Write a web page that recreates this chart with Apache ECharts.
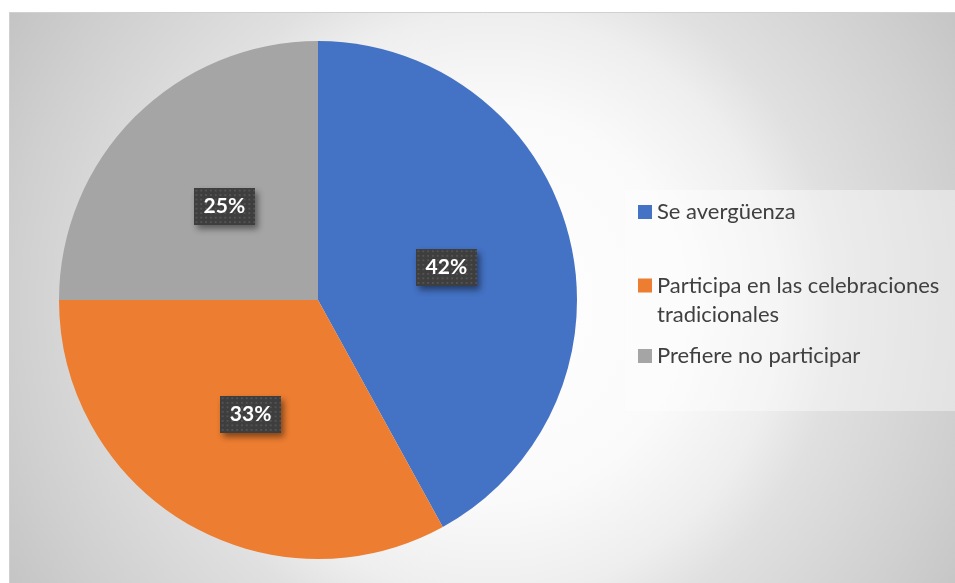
<!DOCTYPE html>
<html>
<head>
<meta charset="utf-8">
<script src="https://cdn.jsdelivr.net/npm/echarts@6/dist/echarts.min.js"></script>
<style>
  html, body { margin: 0; padding: 0; background: #fff; }
  #chart { width: 955px; height: 583px; }
</style>
</head>
<body>
<div id="chart"></div>
<script>
// datos del gráfico
const categories = ["Se avergüenza", "Participa en las celebraciones tradicionales", "Prefiere no participar"];
const values = [42, 33, 25];
const colors = ["#4472C4", "#ED7D31", "#A5A5A5"];
const legendLines = ["Se avergüenza", "Participa en las celebraciones\ntradicionales", "Prefiere no participar"];

// fondo punteado de las etiquetas
function dotPattern() {
  const c = document.createElement("canvas");
  c.width = 64;
  c.height = 41;
  const ctx = c.getContext("2d");
  ctx.fillStyle = "#3e3e3e";
  ctx.fillRect(0, 0, 64, 41);
  ctx.fillStyle = "#545454";
  for (let y = 2; y < 41; y += 5) {
    for (let x = 2; x < 64; x += 5) {
      ctx.fillRect(x, y, 2, 2);
    }
  }
  return c;
}

const chart = echarts.init(document.getElementById("chart"));
const font = "Lato, 'Open Sans', sans-serif";
const legendText = {
  color: "#404040",
  fontSize: 22,
  fontFamily: font,
  lineHeight: 29,
};

const option = {
  animation: false,
  graphic: [
    {
      // fondo con degradado radial
      type: "rect",
      z: -10,
      silent: true,
      shape: { x: 9, y: 12, width: 946, height: 571 },
      style: {
        fill: {
          type: "radial",
          x: 490,
          y: 305,
          r: 560,
          global: true,
          colorStops: [
            { offset: 0, color: "#ffffff" },
            { offset: 0.35, color: "#fafafa" },
            { offset: 0.52, color: "#eeeeee" },
            { offset: 0.62, color: "#e0e0e0" },
            { offset: 0.86, color: "#cfcfcf" },
            { offset: 1, color: "#c4c4c4" },
          ],
        },
      },
    },
    {
      type: "rect",
      z: -9,
      silent: true,
      shape: { x: 9.5, y: 12.5, width: 950, height: 575 },
      style: { fill: "none", stroke: "#d0d0d0", lineWidth: 1 },
    },
    {
      // caja de la leyenda
      type: "rect",
      z: -8,
      silent: true,
      shape: { x: 625, y: 190, width: 330, height: 221 },
      style: { fill: "rgba(255,255,255,0.4)" },
    },
  ],
  legend: [
    {
      data: [categories[0]],
      left: 638,
      top: 197.5,
      padding: 0,
      itemWidth: 14,
      itemHeight: 14,
      icon: "rect",
      itemStyle: { borderWidth: 0 },
      formatter: () => legendLines[0],
      textStyle: legendText,
    },
    {
      data: [categories[1]],
      left: 638,
      top: 271.5,
      padding: 0,
      itemWidth: 14,
      itemHeight: 44,
      icon: "path://M0,0L14,0L14,14L0,14Z M0,44",
      itemStyle: { borderWidth: 0 },
      formatter: () => legendLines[1],
      textStyle: legendText,
    },
    {
      data: [categories[2]],
      left: 638,
      top: 341.5,
      padding: 0,
      itemWidth: 14,
      itemHeight: 14,
      icon: "rect",
      itemStyle: { borderWidth: 0 },
      formatter: () => legendLines[2],
      textStyle: legendText,
    },
  ],
  series: [
    {
      type: "pie",
      center: [318, 300],
      radius: 259,
      startAngle: 90,
      clockwise: true,
      itemStyle: { borderWidth: 0 },
      emphasis: { disabled: true },
      label: {
        show: true,
        position: "inside",
        formatter: "{c}%",
        color: "#ffffff",
        fontWeight: "bold",
        fontSize: 21,
        fontFamily: font,
        backgroundColor: { image: dotPattern() },
        padding: [8, 10],
        shadowColor: "rgba(0,0,0,0.45)",
        shadowBlur: 6,
        shadowOffsetX: 3,
        shadowOffsetY: 4,
      },
      labelLine: { show: false },
      data: categories.map((name, i) => ({
        name: name,
        value: values[i],
        itemStyle: { color: colors[i] },
      })),
    },
  ],
};

chart.setOption(option);
</script>
</body>
</html>
